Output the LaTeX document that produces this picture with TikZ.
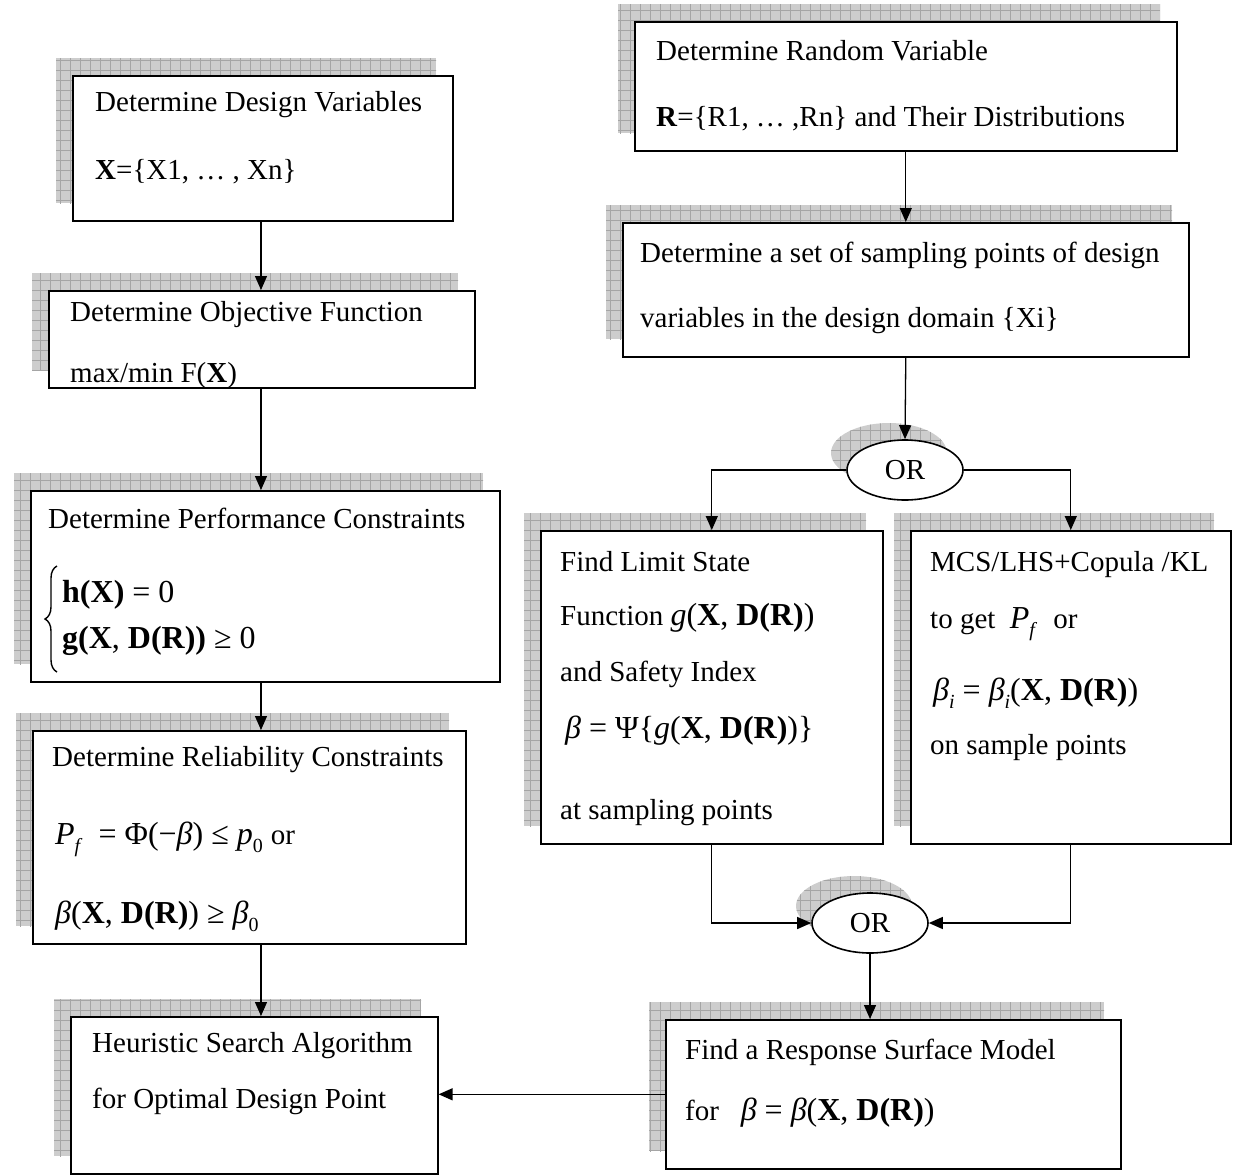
\documentclass[tikz,border=0pt]{standalone}
\usepackage{fontspec}
\setmainfont{Liberation Serif}
\usetikzlibrary{arrows.meta,shapes.geometric,decorations.pathreplacing}
\definecolor{shadegray}{RGB}{205,205,205}
\definecolor{shadeline}{RGB}{165,165,165}
% small lowered index (subscripts written with the text font)
\newcommand\lowidx[1]{\raisebox{-0.28em}{\fontsize{20}{20}\selectfont #1}}
\newcommand\eqsize{\fontsize{32}{37}\selectfont}
% a framed step box with its hatched drop shadow behind it
\newcommand\shadedbox[5]{%
  \path[hatchshade] (#2-16,#3-17) rectangle (#4-16,#5-17);
  \node[flowbox, minimum width=#4-#2, minimum height=#5-#3] (#1) at (#2,#3) {};}
\begin{document}
\begin{tikzpicture}[x=1pt,y=-1pt,
  font=\fontsize{29}{34}\selectfont,
  flowbox/.style={draw=black, fill=white, line width=1.6pt, inner sep=0pt, anchor=north west},
  hatchshade/.style={fill=shadegray, path picture={
      \draw[line width=0.7pt, draw=shadeline]
        ([xshift=-10pt,yshift=-10pt]path picture bounding box.south west) grid[step=10pt]
        ([xshift=10pt,yshift=10pt]path picture bounding box.north east);}},
  txt/.style={anchor=base west, inner sep=0pt},
  orbox/.style={ellipse, draw=black, fill=white, line width=1.6pt,
    minimum width=116pt, minimum height=60pt, inner sep=0pt},
  conn/.style={line width=1.3pt, -{Triangle[length=14pt,width=12pt]}},
  bracemark/.style={line width=1.4pt, decorate, decoration={brace, amplitude=12pt}}
]
\useasboundingbox (0,0) rectangle (1239,1175);

% ---------------- left column ----------------
\shadedbox{A}{72}{75}{452}{220}
\node[txt] (a1) at (95,111) {Determine Design Variables};
\node[txt] (a2) at (95,179) {\textbf{X}=\{X1, … , Xn\}};

\shadedbox{B}{48}{290}{474}{387}
\node[txt] (b1) at (70,321) {Determine Objective Function};
\node[txt] (b2) at (70,382) {max/min F(\textbf{X})};

\shadedbox{C}{30}{490}{499}{681}
\node[txt] (c1) at (48,528) {Determine Performance Constraints};
\coordinate (cbtop) at (57,566);
\coordinate (cbbot) at (57,672);
\draw[bracemark] (cbbot) -- (cbtop);
\node[txt] (c2) at (62,602) {\eqsize\textbf{h(X)} = 0};
\node[txt] (c3) at (62,648) {\eqsize\textbf{g(X}, \textbf{D(R))} ≥ 0};

\shadedbox{D}{32}{730}{465}{943}
\node[txt] (d1) at (52,766) {Determine Reliability Constraints};
\node[txt] (d2) at (55,844) {\eqsize\textit{P}\lowidx{\textit{f}}\ \ = Φ(−\textit{β}) ≤ \textit{p}\lowidx{0} {\fontsize{29}{34}\selectfont or}};
\node[txt] (d3) at (55,923) {\eqsize\textit{β}(\textbf{X}, \textbf{D(R)}) ≥ \textit{β}\lowidx{0}};

\shadedbox{E}{70}{1016}{437}{1173}
\node[txt] (e1) at (92,1052) {Heuristic Search Algorithm};
\node[txt] (e2) at (92,1108) {for Optimal Design Point};

% ---------------- right column ----------------
\shadedbox{F}{634}{21}{1176}{150}
\node[txt] (f1) at (656,60) {Determine Random Variable};
\node[txt] (f2) at (656,126) {\textbf{R}=\{R1, … ,Rn\} and Their Distributions};

\shadedbox{G}{622}{222}{1188}{356}
\node[txt] (g1) at (640,262) {Determine a set of sampling points of design};
\node[txt] (g2) at (640,327) {variables in the design domain \{Xi\}};

\path[hatchshade] (889,453) ellipse [x radius=58, y radius=30];
\node[orbox] (or1) at (905,470) {OR};

\shadedbox{I}{540}{530}{882}{843}
\node[txt] (i1) at (560,571) {Find Limit State};
\node[txt] (i2) at (560,625) {Function \eqsize\textit{g}(\textbf{X}, \textbf{D(R)})};
\node[txt] (i3) at (560,681) {and Safety Index};
\node[txt] (i4) at (565,738) {\eqsize\textit{β} = Ψ\{\textit{g}(\textbf{X}, \textbf{D(R)})\}};
\node[txt] (i5) at (560,819) {at sampling points};

\shadedbox{J}{910}{530}{1230}{843}
\node[txt] (j1) at (930,571) {MCS/LHS+Copula /KL};
\node[txt] (j2) at (930,628) {to get \ \eqsize\textit{P}\lowidx{\textit{f}}\ \ {\fontsize{29}{34}\selectfont or}};
\node[txt] (j3) at (933,700) {\eqsize\textit{β}\lowidx{\textit{i}} = \textit{β}\lowidx{\textit{i}}(\textbf{X}, \textbf{D(R)})};
\node[txt] (j4) at (930,754) {on sample points};

\path[hatchshade] (854,906) ellipse [x radius=58, y radius=30];
\node[orbox] (or2) at (870,923) {OR};

\shadedbox{L}{665}{1019}{1120}{1168}
\node[txt] (l1) at (685,1059) {Find a Response Surface Model};
\node[txt] (l2) at (685,1120) {for \ \ \eqsize\textit{β} = \textit{β}(\textbf{X}, \textbf{D(R)})};

% ---------------- connectors ----------------
\coordinate (colL) at (261,0);
\draw[conn] (A.south -| colL) -- (B.north -| colL);
\draw[conn] (B.south -| colL) -- (C.north -| colL);
\draw[conn] (C.south -| colL) -- (D.north -| colL);
\draw[conn] (D.south -| colL) -- (E.north -| colL);

\draw[conn] (F.south) -- (G.north);
\draw[conn] (G.south) -- (or1.north);
\draw[conn] (or1.west) -| (I.north);
\draw[conn] (or1.east) -| (J.north);
\draw[conn] (I.south) |- (or2.west);
\draw[conn] (J.south) |- (or2.east);
\draw[conn] (or2.south) -- (or2.south |- L.north);
\draw[conn] (L.west) -- (L.west -| E.east);
\end{tikzpicture}
\end{document}
